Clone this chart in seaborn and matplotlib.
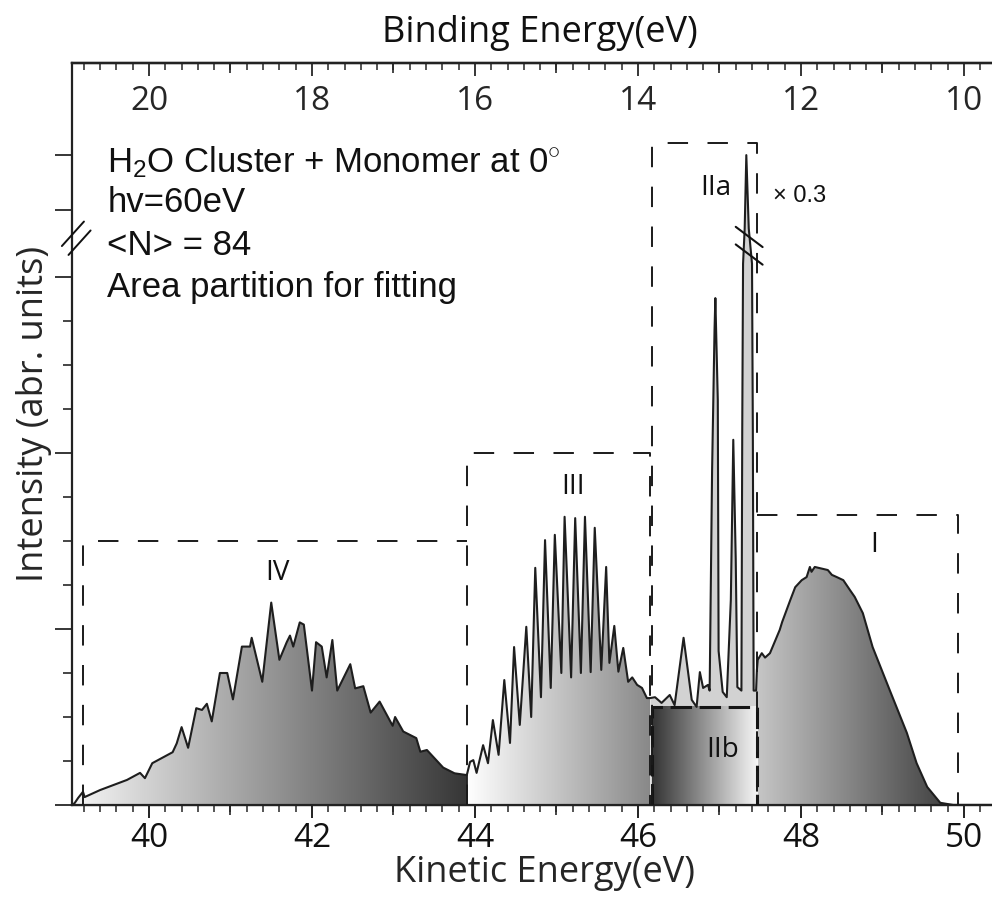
import numpy as np
import pandas as pd
import matplotlib
matplotlib.use("Agg")
import matplotlib.pyplot as plt
import seaborn as sns
from matplotlib.colors import LinearSegmentedColormap
from matplotlib.ticker import MultipleLocator, FixedLocator

hv = 60.0  # photon energy (eV), binding = hv - kinetic

# spectrum: kinetic energy (eV) and intensity (axis units)
ke_iv = [39.06, 39.09, 39.13, 39.19, 39.21, 39.40, 39.73, 39.89, 39.95, 40.04,
         40.29, 40.34, 40.40, 40.48, 40.58, 40.65, 40.71, 40.77, 40.87, 40.96,
         41.03, 41.14, 41.24, 41.26, 41.39, 41.50, 41.60, 41.69, 41.73, 41.77,
         41.85, 41.90, 42.00, 42.05, 42.12, 42.18, 42.25, 42.31, 42.47, 42.53,
         42.63, 42.72, 42.83, 42.99, 43.02, 43.12, 43.28, 43.33, 43.41, 43.61,
         43.75, 43.90]
int_iv = [0.00, 0.05, 0.16, 0.30, 0.18, 0.34, 0.57, 0.73, 0.61, 0.95,
          1.20, 1.40, 1.77, 1.30, 2.20, 2.16, 2.30, 1.90, 3.00, 3.00,
          2.40, 3.60, 3.60, 3.80, 2.80, 4.60, 3.30, 3.70, 3.85, 3.60,
          4.15, 4.10, 2.60, 3.70, 3.60, 2.90, 3.75, 2.60, 3.20, 2.65,
          2.70, 2.10, 2.35, 1.80, 2.00, 1.67, 1.52, 1.21, 1.25, 0.85,
          0.72, 0.68]

ke_iii = [43.90, 43.94, 43.98, 44.02, 44.10, 44.16, 44.22, 44.29, 44.36, 44.43,
          44.48, 44.55, 44.63, 44.69, 44.74, 44.81, 44.86, 44.93, 44.98, 45.06,
          45.10, 45.18, 45.23, 45.30, 45.35, 45.42, 45.47, 45.55, 45.61, 45.65,
          45.71, 45.76, 45.82, 45.88, 45.93, 45.99, 46.05, 46.11, 46.15]
int_iii = [0.68, 0.98, 1.02, 0.73, 1.36, 0.95, 1.93, 1.14, 2.84, 1.41,
           3.59, 1.82, 4.05, 2.00, 5.39, 2.45, 6.02, 2.66, 6.14, 3.00,
           6.55, 2.90, 6.52, 3.00, 6.55, 3.02, 6.30, 3.07, 5.41, 3.23,
           4.07, 3.03, 3.57, 2.80, 2.90, 2.73, 2.66, 2.43, 2.43]

ke_ii = [46.15, 46.21, 46.29, 46.39, 46.45, 46.56, 46.66, 46.72, 46.76, 46.80,
         46.86, 46.88, 46.91, 46.94, 46.95, 46.98, 46.99, 47.04, 47.09, 47.14,
         47.17, 47.20, 47.22, 47.27, 47.28, 47.29, 47.31, 47.33, 47.36, 47.40,
         47.41, 47.42, 47.45]
int_ii = [2.43, 2.45, 2.32, 2.50, 2.27, 3.80, 2.39, 2.23, 3.02, 2.66,
          2.73, 2.60, 7.60, 10.80, 11.52, 9.20, 3.50, 2.57, 2.45, 4.66,
          8.30, 5.60, 2.68, 2.60, 8.50, 12.30, 13.10, 14.77, 13.10, 12.30,
          8.50, 2.60, 2.60]

ke_i = [47.46, 47.47, 47.52, 47.56, 47.62, 47.74, 47.77, 47.87, 47.93, 48.01,
        48.07, 48.11, 48.13, 48.17, 48.33, 48.38, 48.44, 48.52, 48.60, 48.66,
        48.76, 48.88, 49.09, 49.30, 49.42, 49.55, 49.71, 49.87, 50.34]
int_i = [3.07, 3.30, 3.45, 3.35, 3.45, 3.98, 4.16, 4.66, 4.95, 5.11,
         5.18, 5.41, 5.30, 5.41, 5.34, 5.23, 5.18, 5.11, 4.89, 4.73,
         4.36, 3.59, 2.61, 1.64, 0.95, 0.41, 0.05, 0.00, 0.00]

# area partition boxes (kinetic energy range and height)
box_names = ["IV", "III", "IIa", "I"]
box_lo = [39.19, 43.90, 46.17, 47.46]
box_hi = [43.90, 46.15, 47.46, 49.93]
box_top = [6.00, 8.00, 15.05, 6.59]
iib_lo, iib_hi, iib_top = 46.17, 47.46, 2.23

ke_ticks = [40, 42, 44, 46, 48, 50]
be_ticks = [10, 12, 14, 16, 18, 20]

sns.set_theme(style="ticks")
plt.rcParams["font.family"] = ["Open Sans", "DejaVu Sans"]
plt.rcParams.update({
    "mathtext.fontset": "custom",
    "mathtext.rm": "Liberation Sans",
    "mathtext.it": "Liberation Sans:italic",
    "mathtext.bf": "Liberation Sans:bold",
    "axes.linewidth": 1.6,
    "axes.edgecolor": "#222222",
})

fig = plt.figure(figsize=(9.92, 8.97), dpi=100)
ax = fig.add_axes([72 / 992, 1 - 805 / 897, 920 / 992, 742.3 / 897])
grad = np.linspace(0, 1, 256)[None, :]


def gradient_fill(x, y, c0, c1, x_end=None):
    poly = ax.fill_between(x, 0, y, facecolor="none", edgecolor="none")
    cmap = LinearSegmentedColormap.from_list("shade", [c0, c1])
    x1 = x[-1] if x_end is None else x_end
    im = ax.imshow(grad, cmap=cmap, aspect="auto", origin="lower",
                   extent=[x[0], x1, 0, max(y)], interpolation="bilinear", zorder=1)
    im.set_clip_path(poly.get_paths()[0], transform=ax.transData)


gradient_fill(ke_iv, int_iv, "#f6f6f6", "#363636")
gradient_fill(ke_iii, int_iii, "#ffffff", "#888888")
ax.fill_between(ke_ii, 0, int_ii, color="#d2d2d2", lw=0, zorder=1)
gradient_fill(ke_i, int_i, "#c6c6c6", "#383838", x_end=49.95)

# IIb block
ax.imshow(grad, cmap=LinearSegmentedColormap.from_list("iib", ["#333333", "#f6f6f6"]),
          aspect="auto", origin="lower", extent=[iib_lo, iib_hi, 0, iib_top],
          interpolation="bilinear", zorder=2)
ax.plot([iib_lo, iib_lo, iib_hi, iib_hi], [0, iib_top, iib_top, 0],
        color="#151515", lw=2.2, ls=(0, (7, 2.5)), zorder=4)

# spectrum line
spec = pd.DataFrame({
    "ke": ke_iv + ke_iii[1:] + ke_ii[1:] + ke_i,
    "intensity": int_iv + int_iii[1:] + int_ii[1:] + int_i,
})
sns.lineplot(data=spec, x="ke", y="intensity", sort=False, estimator=None,
             color="#1e1e1e", lw=1.5, ax=ax, zorder=3)
ax.plot([ke_iv[-1], ke_iv[-1]], [0, int_iv[-1]], color="#1e1e1e", lw=1.3, zorder=3)

# dashed partition boxes
dash = (0, (10.5, 10))
for name, lo, hi, top in zip(box_names, box_lo, box_hi, box_top):
    if name == "IV":
        xs, ys = [lo, lo, hi], [0, top, top]
    elif name == "I":
        xs, ys = [lo, hi, hi], [top, top, 0]
    else:
        xs, ys = [lo, lo, hi, hi], [0, top, top, 0]
    ax.plot(xs, ys, color="#1a1a1a", lw=1.4, ls=dash, zorder=4)

# region labels
lab_kw = dict(ha="center", va="center", fontsize=20, color="#111111", zorder=5)
ax.text(41.57, 5.27, "IV", **lab_kw)
ax.text(45.21, 7.23, "III", **lab_kw)
ax.text(46.96, 14.02, "IIa", **lab_kw)
ax.text(47.04, 1.25, "IIb", **lab_kw)
ax.text(48.90, 5.91, "I", **lab_kw)
ax.text(47.66, 13.70, "× 0.3", ha="left", va="baseline", fontsize=17,
        family=["Liberation Sans", "DejaVu Sans"], color="#111111", zorder=5)

# break marks on the scaled peak
ybreak = 12.72
peak_ke = ke_ii[int(np.argmax(int_ii))]
for dy in (0.2, -0.2):
    ax.plot([peak_ke - 0.13, peak_ke + 0.2], [ybreak + dy + 0.22, ybreak + dy - 0.24],
            color="#111111", lw=1.5, zorder=5)

# annotation block
ann_kw = dict(ha="left", va="baseline", fontsize=25, color="#111111",
              family=["Liberation Sans", "DejaVu Sans"], zorder=5)
ax.text(39.49, 14.39, r"H$_{2}$O Cluster + Monomer at 0$^{\circ}$", **ann_kw)
ax.text(39.49, 13.48, "hv=60eV", **ann_kw)
ax.text(39.49, 12.50, "<N> = 84", **ann_kw)
ax.text(39.49, 11.55, "Area partition for fitting", **ann_kw)

# axes limits and spines
ax.set_xlim(39.055, 50.345)
ax.set_ylim(0, 16.87)
ax.spines["right"].set_visible(False)

# bottom axis: kinetic energy
ax.xaxis.set_major_locator(FixedLocator(ke_ticks))
ax.xaxis.set_minor_locator(MultipleLocator(0.2))
ax.tick_params(axis="x", which="major", direction="out", length=9, width=1.3,
               labelsize=24, pad=3, colors="#111111")
ax.tick_params(axis="x", which="minor", direction="out", length=5, width=1.1)
bot_mid = ax.secondary_xaxis("bottom")
bot_mid.set_xticks([41, 43, 45, 47, 49])
bot_mid.tick_params(axis="x", direction="out", length=7, width=1.2, labelbottom=False)
ax.set_xlabel("Kinetic Energy(eV)", fontsize=26, va="center")
ax.xaxis.set_label_coords(0.514, -0.092)

# top axis: binding energy
top = ax.secondary_xaxis("top", functions=(lambda k: hv - k, lambda b: hv - b))
top.xaxis.set_major_locator(FixedLocator(be_ticks))
top.xaxis.set_minor_locator(MultipleLocator(0.2))
top.tick_params(axis="x", which="major", direction="in", length=9, width=1.3,
                labelsize=24, pad=-40)
top.tick_params(axis="x", which="minor", direction="in", length=5, width=1.1)
top_mid = ax.secondary_xaxis("top", functions=(lambda k: hv - k, lambda b: hv - b))
top_mid.set_xticks([11, 13, 15, 17, 19])
top_mid.tick_params(axis="x", direction="in", length=7, width=1.2, labeltop=False)
fig.text(540 / 992, 1 - 33 / 897, "Binding Energy(eV)", fontsize=26,
         ha="center", va="center", color="#111111")

# left axis: intensity, no numbers
ax.yaxis.set_major_locator(FixedLocator([0, 4, 8, 12, 13.52, 14.77]))
ax.yaxis.set_minor_locator(FixedLocator([1, 2, 3, 5, 6, 7, 9, 10, 11]))
ax.tick_params(axis="y", which="major", direction="out", length=12, width=1.3, labelleft=False)
ax.tick_params(axis="y", which="minor", direction="out", length=6.5, width=1.2)
ax.set_ylabel("Intensity (abr. units)", fontsize=26, va="center", ha="center")
ax.yaxis.set_label_coords(-0.041, 0.527)

# axis break marks on the left spine
for off in (0.0, 0.012):
    ax.plot([-0.011 + off * 0.6, 0.013 + off * 0.6], [0.753 - off, 0.786 - off],
            transform=ax.transAxes, color="#111111", lw=1.4, clip_on=False, zorder=6)

fig.savefig("out.png", dpi=100)
